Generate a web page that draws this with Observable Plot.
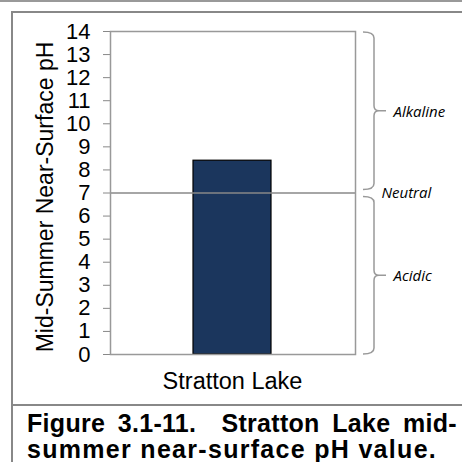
<!DOCTYPE html>
<html>
<head>
<meta charset="utf-8">
<script src="https://cdn.jsdelivr.net/npm/d3@7"></script>
<script src="https://cdn.jsdelivr.net/npm/@observablehq/plot@0.6"></script>
<style>
  html, body { margin: 0; padding: 0; background: #fff; }
  body { width: 462px; height: 462px; overflow: hidden; position: relative; font-family: "Liberation Sans", Arial, sans-serif; }
  #topline { position: absolute; left: 0; top: 0; width: 462px; height: 0; border-top: 2px solid #999; }
  #box { position: absolute; left: 11px; top: 11px; width: 460px; height: 460px; border-left: 2px solid #888; border-top: 2px solid #888; box-sizing: border-box; }
  #chart { position: absolute; left: 0; top: 0; }
  #sep { position: absolute; left: 11px; top: 404px; width: 451px; border-top: 2px solid #888; }
  #caption { position: absolute; left: 27px; top: 410px; width: 430px; font-weight: bold; font-size: 25px; line-height: 26px; color: #000; }
  #caption .l1 { text-align: justify; text-align-last: justify; white-space: nowrap; letter-spacing: 0.3px; }
  #caption .l2 { white-space: nowrap; letter-spacing: 1.3px; }
  #chart g[aria-label="y-axis tick"] { stroke: #888; }
</style>
</head>
<body>
<div id="topline"></div>
<div id="box"></div>
<div id="chart"></div>
<div id="sep"></div>
<div id="caption"></div>
<script>
const lakes = ["Stratton Lake"];
const phValues = [8.4];
const yTicks = [0,1,2,3,4,5,6,7,8,9,10,11,12,13,14];
const yLabel = "Mid-Summer Near-Surface pH";
const neutralValue = [7];
const zoneNames = ["Alkaline", "Acidic"];
const zoneFrom = [7, 0];
const zoneTo = [14, 7];
const zoneLabelY = [10.5, 3.4];
const neutralLabel = "Neutral";
const captionLines = ["Figure 3.1-11.\u00a0 Stratton Lake mid-", "summer near-surface pH value."];

const bars = lakes.map((lake, i) => ({lake, ph: phValues[i]}));
const zones = zoneNames.map((name, i) => ({name, from: zoneFrom[i], to: zoneTo[i], mid: zoneLabelY[i]}));

function braces(index, scales, values, dimensions) {
  const ns = "http://www.w3.org/2000/svg";
  const g = document.createElementNS(ns, "g");
  const x0 = dimensions.width - dimensions.marginRight + 8;
  const xv = x0 + 11;
  const xt = x0 + 23;
  for (const z of zones) {
    const top = scales.y(z.to) + (z.to === 14 ? 1 : 4);
    const bot = scales.y(z.from) - (z.from === 0 ? 0 : 3);
    const mid = (top + bot) / 2;
    const p = document.createElementNS(ns, "path");
    p.setAttribute("d",
      `M${x0},${top} Q${xv},${top} ${xv},${top + 6} L${xv},${mid - 5} Q${xv},${mid} ${xv + 5},${mid} L${xt},${mid} ` +
      `M${xv + 5},${mid} Q${xv},${mid} ${xv},${mid + 5} L${xv},${bot - 6} Q${xv},${bot} ${x0},${bot}`);
    p.setAttribute("fill", "none");
    p.setAttribute("stroke", "#999");
    p.setAttribute("stroke-width", "1.5");
    g.appendChild(p);
  }
  return g;
}

const sideText = {frameAnchor: "right", textAnchor: "start", fontSize: 15, fontStyle: "italic", fontFamily: "Open Sans, sans-serif", fill: "#000"};

const chart = Plot.plot({
  width: 462,
  height: 405,
  marginLeft: 110,
  marginRight: 107,
  marginTop: 31,
  marginBottom: 51,
  style: {fontFamily: "Liberation Sans, Arial, sans-serif", fontSize: "22px", color: "#000", background: "transparent"},
  x: {domain: lakes, padding: 0.513},
  y: {domain: [0, 14]},
  marks: [
    Plot.axisY({ticks: yTicks, tickSize: 7, tickPadding: 13, tickFormat: d => String(d), label: null}),
    Plot.axisX({tickSize: 0, tickPadding: 18, fontSize: 23.5, label: null}),
    Plot.text([yLabel], {text: d => d, frameAnchor: "left", rotate: -90, dx: -65, dy: 4, fontSize: 23, textAnchor: "middle", fill: "#000"}),
    Plot.barY(bars, {x: "lake", y: "ph", fill: "#1b365d", stroke: "#000", strokeWidth: 1.2}),
    Plot.ruleY(neutralValue, {stroke: "#888", strokeWidth: 1.5}),
    Plot.frame({stroke: "#999", strokeWidth: 1.5}),
    braces,
    Plot.text(zones, {...sideText, y: "mid", text: "name", dx: 38}),
    Plot.text(neutralValue, {...sideText, y: d => d, text: () => neutralLabel, dx: 26})
  ]
});
document.getElementById("chart").appendChild(chart);

const cap = document.getElementById("caption");
captionLines.forEach((t, i) => {
  const d = document.createElement("div");
  d.className = i === 0 ? "l1" : "l2";
  d.textContent = t;
  cap.appendChild(d);
});
</script>
</body>
</html>
